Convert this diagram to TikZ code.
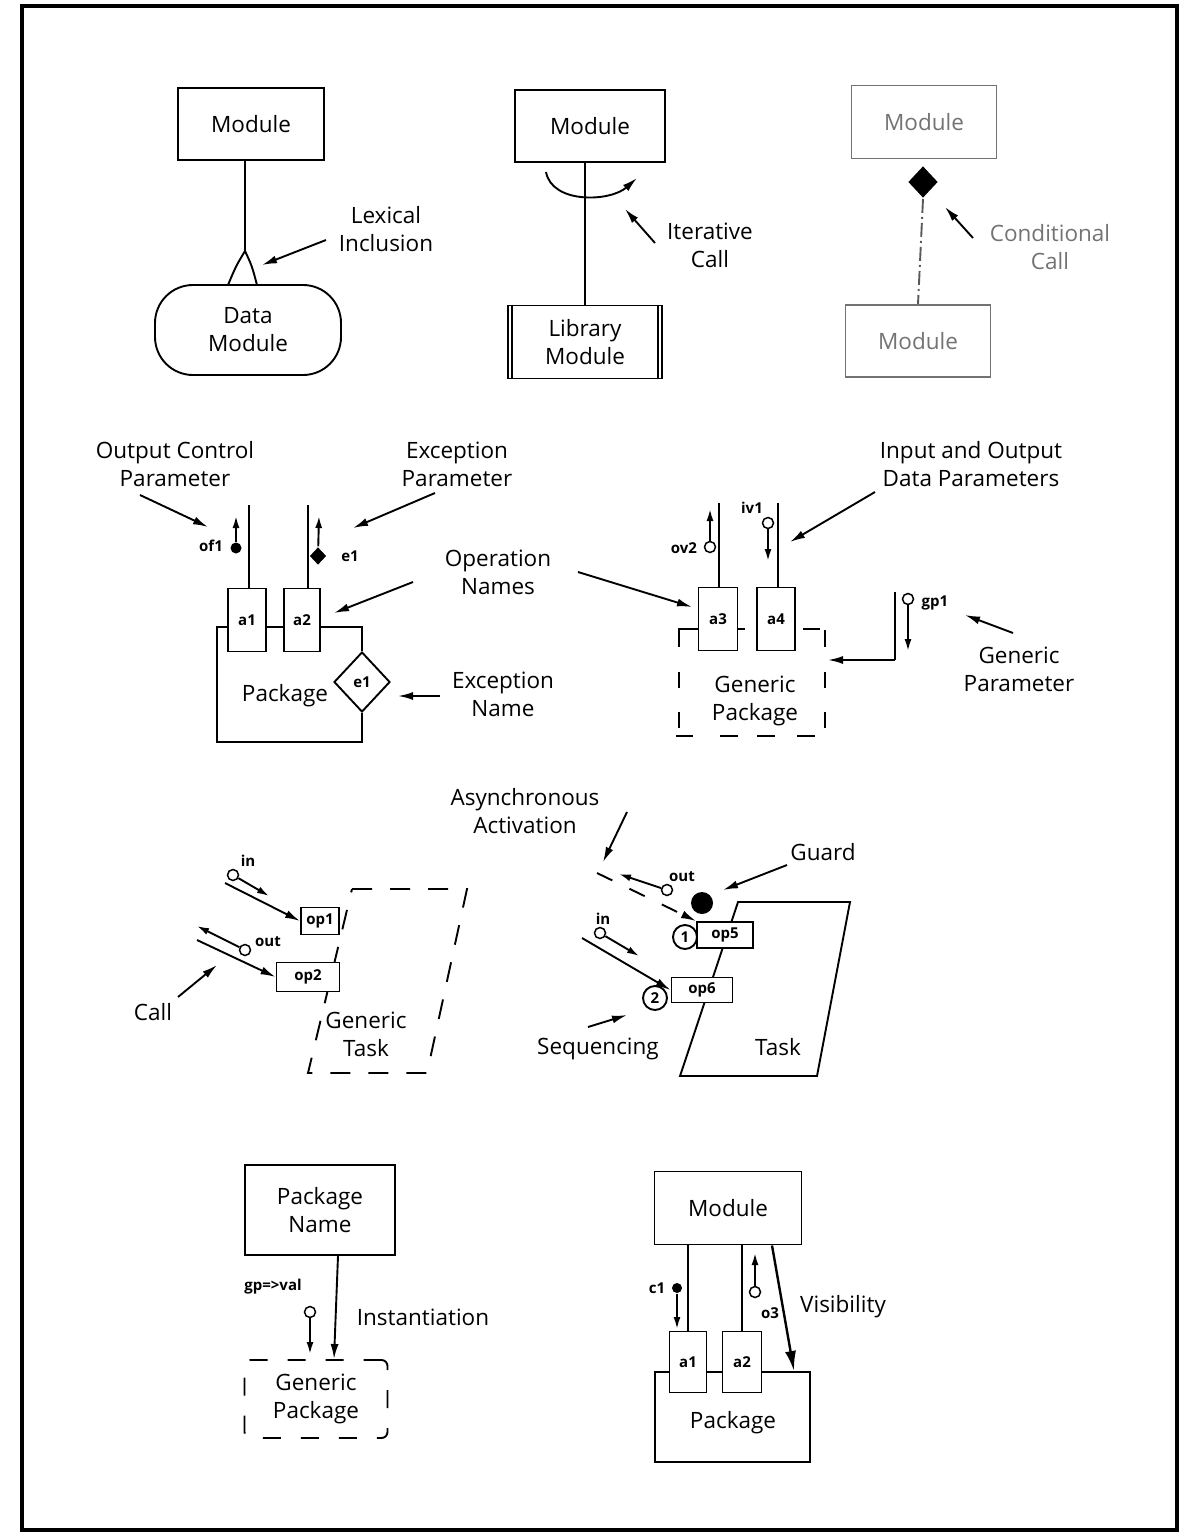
\documentclass[tikz,border=0pt]{standalone}
\usepackage{fontspec}
\setmainfont{Open Sans}
\usetikzlibrary{arrows.meta,shapes.geometric}
\tikzset{
 lbl/.style={font=\fontsize{22.5}{28}\selectfont, align=center, inner sep=0pt},
 sml/.style={font=\fontsize{15}{17}\selectfont\bfseries, inner sep=0pt},
 box/.style={draw, fill=white, inner sep=0pt, align=center, font=\fontsize{22.5}{28}\selectfont},
 opbox/.style={draw, fill=white, inner sep=0pt, font=\fontsize{15}{17}\selectfont\bfseries},
 ar/.style={-{Latex[length=15pt,width=8pt]}},
 sar/.style={-{Latex[length=12pt,width=7pt]}},
 dotp/.style={circle, fill, inner sep=0pt, minimum size=11pt},
 ocirc/.style={circle, draw, fill=white, inner sep=0pt, minimum size=11pt, line width=1.5pt},
 numc/.style={circle, draw, fill=white, inner sep=0pt, minimum size=24pt, font=\fontsize{15}{17}\selectfont\bfseries},
}
\begin{document}
\begin{tikzpicture}[x=1pt,y=-1pt,line width=1.9pt]
\useasboundingbox (0,0) rectangle (1193,1536);
\draw[line width=3.2pt] (22,6) rectangle (1177,1530);

% ---------- Section 1: lexical inclusion
\node[box, minimum width=146pt, minimum height=72pt] (m1) at (251,124) {Module};
\node[box, rounded corners=38pt, minimum width=186pt, minimum height=90pt] (dm) at (248,330) {Data\\Module};
\coordinate (apex) at (245,251);
\coordinate (tl) at (228,285);
\coordinate (tr) at (257,285);
\draw (m1.south -| apex) -- (apex);
\draw (tl) .. controls (236,266) .. (apex) .. controls (252,266) .. (tr);
\node[lbl] (lex) at (386,229) {Lexical\\Inclusion};
\coordinate (lexT) at (326,240); \coordinate (lexH) at (262,265);
\draw[ar] (lexT) -- (lexH);

% ---------- Section 2: iterative call
\node[box, minimum width=150pt, minimum height=72pt] (m2) at (590,126) {Module};
\node[box, minimum width=154pt, minimum height=73pt] (lib) at (585,342) {Library\\Module};
\draw ([xshift=5pt]lib.north west) -- ([xshift=5pt]lib.south west);
\draw ([xshift=-5pt]lib.north east) -- ([xshift=-5pt]lib.south east);
\draw ([xshift=-5pt]m2.south) -- (lib.north);
\coordinate (itA) at (546,172); \coordinate (itB) at (637,178);
\draw[ar] (itA) .. controls (552,204) and (610,202) .. (itB);
\coordinate (itT) at (655,243); \coordinate (itH) at (625,209);
\draw[ar] (itT) -- (itH);
\node[lbl] (itl) at (710,245) {Iterative\\Call};

% ---------- Section 3: conditional call
\begin{scope}[black!55]
\node[box, minimum width=145pt, minimum height=73pt] (m3) at (924,122) {Module};
\node[box, minimum width=145pt, minimum height=72pt] (m4) at (918,341) {Module};
\node[lbl] (cdl) at (1050,247) {Conditional\\Call};
\end{scope}
\node[diamond, fill, inner sep=0pt, minimum width=30pt, minimum height=32pt] (cd) at (923,182) {};
\draw[black!65, dash pattern=on 14pt off 4pt on 2pt off 4pt] (cd.south) -- (m4.north);
\coordinate (cdT) at (973,238); \coordinate (cdH) at (945,207);
\draw[ar] (cdT) -- (cdH);

% ---------- Section 4: package
\node[lbl] (ocp) at (175,464) {Output Control\\Parameter};
\node[lbl] (exp) at (457,464) {Exception\\Parameter};
\coordinate (ocpT) at (140,495); \coordinate (ocpH) at (208,527); \draw[ar] (ocpT) -- (ocpH);
\coordinate (expT) at (435,493); \coordinate (expH) at (353,528); \draw[ar] (expT) -- (expH);
\node[opbox, minimum width=38pt, minimum height=63pt] (a1) at (247,620) {a1};
\node[opbox, minimum width=36pt, minimum height=63pt] (a2) at (302,620) {a2};
\coordinate (w1) at (249,505); \draw (w1) -- (w1 |- a1.north);
\coordinate (w2) at (308,505); \draw (w2) -- (w2 |- a2.north);
\node[dotp] (of1d) at (236,548) {}; \coordinate (of1t) at (236,516); \draw[sar] (of1d) -- (of1t);
\node[sml] (of1l) at (211,546) {of1};
\node[diamond, fill, inner sep=0pt, minimum width=17pt, minimum height=18pt] (e1d) at (318,556) {};
\coordinate (e1t) at (319,516); \draw[sar] (e1d) -- (e1t);
\node[sml] (e1l) at (350,556) {e1};
\node[diamond, draw, fill=white, inner sep=0pt, minimum width=56pt, minimum height=60pt, font=\fontsize{15}{17}\selectfont\bfseries] (e1n) at (362,682) {e1};
\draw (a1.west |- 0,627) -- (217,627) -- (217,742) -- (e1n.south |- 0,742) -- (e1n.south);
\draw (e1n.north) -- (e1n.north |- 0,627) -- (a2.east |- 0,627);
\draw (a1.east |- 0,627) -- (a2.west |- 0,627);
\node[lbl] (pkg1) at (285,696) {Package};
\node[lbl] (opn) at (498,572) {Operation\\Names};
\coordinate (opnT1) at (413,582); \coordinate (opnH1) at (334,613); \draw[ar] (opnT1) -- (opnH1);
\coordinate (opnT2) at (578,572); \coordinate (opnH2) at (692,607); \draw[ar] (opnT2) -- (opnH2);
\node[lbl] (exn) at (503,694) {Exception\\Name};
\coordinate (exnT) at (440,696); \coordinate (exnH) at (398,696); \draw[ar] (exnT) -- (exnH);

% ---------- Section 5: generic package
\node[lbl] (iol) at (971,464) {Input and Output\\Data Parameters};
\coordinate (iolT) at (875,492); \coordinate (iolH) at (790,542); \draw[ar] (iolT) -- (iolH);
\node[opbox, minimum width=39pt, minimum height=63pt] (a3) at (718,619) {a3};
\node[opbox, minimum width=38pt, minimum height=63pt] (a4) at (776,619) {a4};
\coordinate (w3) at (719,503); \draw (w3) -- (w3 |- a3.north);
\coordinate (w4) at (778,503); \draw (w4) -- (w4 |- a4.north);
\node[ocirc] (ov2c) at (710,547) {}; \coordinate (ov2t) at (710,509); \draw[sar] (ov2c) -- (ov2t);
\node[sml] (ov2l) at (684,548) {ov2};
\node[ocirc] (iv1c) at (768,523) {}; \coordinate (iv1h) at (768,561); \draw[sar] (iv1c) -- (iv1h);
\node[sml] (iv1l) at (752,508) {iv1};
\draw (a3.west |- 0,629) -- (679,629) -- (679,647);
\draw (679,672) -- (679,688);
\draw (679,712) -- (679,728);
\draw (676,736) -- (693,736);
\draw (720,736) -- (738,736);
\draw (757,736) -- (775,736);
\draw (797,736) -- (815,736);
\draw (825,712) -- (825,728);
\draw (825,672) -- (825,688);
\draw (825,630) -- (825,647);
\draw (803,629) -- (820,629);
\draw (a3.east |- 0,629) -- (745,629);
\node[lbl] (gpkl) at (755,701) {Generic\\Package};
\coordinate (gpv1) at (895,592); \coordinate (gpv2) at (895,660); \coordinate (gph) at (828,660);
\draw (gpv1) -- (gpv2);
\draw[ar] (gpv2) -- (gph);
\node[ocirc] (gp1c) at (908,599) {}; \coordinate (gp1h) at (908,651); \draw[sar] (gp1c) -- (gp1h);
\node[sml] (gp1l) at (935,603) {gp1};
\node[lbl] (gpl) at (1019,669) {Generic\\Parameter};
\coordinate (gplT) at (1013,633); \coordinate (gplH) at (965,615); \draw[ar] (gplT) -- (gplH);

% ---------- Section 6: generic task
\draw[dash pattern=on 20pt off 18pt] (352,889) -- (467,889) -- (427,1073) -- (308,1073) -- cycle;
\node[opbox, minimum width=38pt, minimum height=27pt] (op1) at (320,921) {op1};
\node[opbox, minimum width=63pt, minimum height=29pt] (op2) at (308,977) {op2};
\node[sml] (inl1) at (248,861) {in};
\node[ocirc] (inc1) at (233,875) {}; \coordinate (inh1) at (269,896); \draw[sar] (inc1) -- (inh1);
\coordinate (in1s) at (225,883); \draw[ar] (in1s) -- (op1.west);
\node[ocirc] (outc1) at (245,950) {}; \coordinate (outh1) at (197,926); \draw[sar] (outc1) -- (outh1);
\node[sml] (outl1) at (268,942) {out};
\coordinate (call1s) at (197,940); \draw[ar] (call1s) -- (op2.west);
\node[lbl] (calll) at (153,1012) {Call};
\coordinate (callT) at (178,997); \coordinate (callH) at (217,965); \draw[ar] (callT) -- (callH);
\node[lbl] (gtl) at (366,1034) {Generic\\Task};

% ---------- Section 7: task
\node[lbl] (asl) at (525,811) {Asynchronous\\Activation};
\coordinate (asT) at (627,812); \coordinate (asH) at (603,862); \draw[ar] (asT) -- (asH);
\draw (738,902) -- (850,902) -- (817,1076) -- (680,1076) -- cycle;
\node[opbox, minimum width=56pt, minimum height=26pt] (op5) at (725,935) {op5};
\node[opbox, minimum width=61pt, minimum height=25pt] (op6) at (702,990) {op6};
\node[numc] (s1) at (685,937) {1};
\node[numc] (s2) at (655,998) {2};
\coordinate (asS) at (597,873); \draw[ar, dash pattern=on 17pt off 19pt] (asS) -- (op5.north west);
\node[ocirc] (outc2) at (667,890) {}; \coordinate (outh2) at (619,874); \draw[sar] (outc2) -- (outh2);
\node[sml] (outl2) at (682,877) {out};
\node[circle, fill, inner sep=0pt, minimum size=22pt] (guard) at (702,903) {};
\node[lbl] (gdl) at (823,852) {Guard};
\coordinate (gdT) at (787,865); \coordinate (gdH) at (723,890); \draw[ar] (gdT) -- (gdH);
\node[sml] (inl2) at (603,919) {in};
\node[ocirc] (inc2) at (600,933) {}; \coordinate (inh2) at (639,956); \draw[sar] (inc2) -- (inh2);
\coordinate (in2s) at (582,938); \draw[ar] (in2s) -- (op6.west);
\node[lbl] (seql) at (598,1049) {Sequencing};
\coordinate (seqT) at (588,1027); \coordinate (seqH) at (627,1015); \draw[ar] (seqT) -- (seqH);
\node[lbl] (taskl) at (778,1047) {Task};

% ---------- Section 8: instantiation
\node[box, minimum width=150pt, minimum height=90pt] (pn) at (320,1210) {Package\\Name};
\node[box, dash pattern=on 18pt off 20pt, rounded corners=6pt, minimum width=143pt, minimum height=78pt] (gpk) at (316,1399) {Generic\\Package};
\draw[ar] ([xshift=18pt]pn.south) -- ([xshift=18pt]gpk.north);
\node[sml] (gpvl) at (273,1287) {gp=>val};
\node[ocirc] (gpvc) at (310,1312) {}; \coordinate (gpvh) at (310,1354); \draw[sar] (gpvc) -- (gpvh);
\node[lbl] (instl) at (423,1317) {Instantiation};

% ---------- Section 9: visibility
\node[box, minimum width=147pt, minimum height=73pt] (mod9) at (728,1208) {Module};
\node[opbox, minimum width=37pt, minimum height=61pt] (b1) at (688,1362) {a1};
\node[opbox, minimum width=39pt, minimum height=61pt] (b2) at (742,1362) {a2};
\draw (b1.north |- mod9.south) -- (b1.north);
\draw (b2.north |- mod9.south) -- (b2.north);
\node[dotp, minimum size=10pt] (c1d) at (677,1288) {}; \coordinate (c1h) at (677,1329); \draw[sar] (c1d) -- (c1h);
\node[sml] (c1l) at (657,1288) {c1};
\node[ocirc] (o3c) at (755,1292) {}; \coordinate (o3h) at (755,1253); \draw[sar] (o3c) -- (o3h);
\node[sml] (o3l) at (770,1313) {o3};
\coordinate (vh) at (794,1371);
\draw[line width=2.4pt, -{Latex[length=20pt,width=11pt]}] ([xshift=44pt]mod9.south) -- (vh);
\node[lbl] (visl) at (843,1307) {Visibility};
\draw (b1.west |- 0,1372) -- (655,1372) -- (655,1462) -- (810,1462) -- (810,1372) -- (b2.east |- 0,1372);
\draw (b1.east |- 0,1372) -- (b2.west |- 0,1372);
\node[lbl] (pkg9) at (733,1423) {Package};
\end{tikzpicture}
\end{document}
